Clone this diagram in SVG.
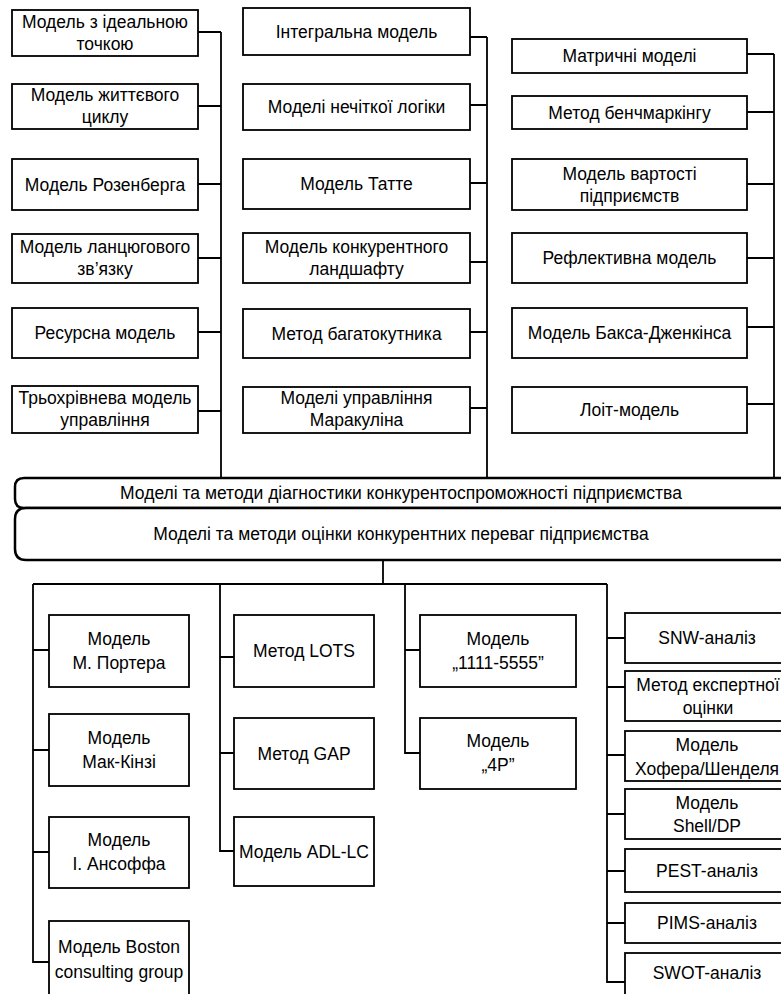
<svg xmlns="http://www.w3.org/2000/svg" width="781" height="994" viewBox="0 0 781 994">
<style>
.box{fill:#fff;stroke:#000;stroke-width:1.8}
.bar{fill:#fff;stroke:#000;stroke-width:2.5}
.ln{fill:none;stroke:#000;stroke-width:1.8}
text{font-family:"Liberation Sans",Arial,sans-serif;font-size:17.5px;text-anchor:middle;fill:#000}
</style>
<rect width="781" height="994" fill="#fff"/>
<g id="connectors">
<path class="ln" d="M221 32V478M198 32H221M198 106H221M198 184H221M198 258H221M198 332H221M198 411H221"/>
<path class="ln" d="M487 37V478M470 37H487M470 105H487M470 183H487M470 262H487M470 332H487M470 408H487"/>
<path class="ln" d="M774 54V478M747 54H774M747 112H774M747 184H774M747 258H774M747 327H774M747 404H774"/>
<path class="ln" d="M383 560V584M33 584H607"/>
<path class="ln" d="M33 584V963M33 650H49M33 750H49M33 852H49M33 962H49"/>
<path class="ln" d="M220 584V851H234M220 657H234M220 753H234"/>
<path class="ln" d="M405 584V753H420M405 650H420"/>
<path class="ln" d="M607 584V982H625M607 638H625M607 687H625M607 755H625M607 814H625M607 871H625M607 923H625"/>
</g>
<g id="L1"><rect class="box" x="12" y="10" width="186" height="46"/><text x="105" y="28">Модель з ідеальною</text><text x="105" y="50">точкою</text></g>
<g id="L2"><rect class="box" x="12" y="84" width="186" height="45"/><text x="105" y="101">Модель життєвого</text><text x="105" y="123">циклу</text></g>
<g id="L3"><rect class="box" x="12" y="159" width="186" height="51"/><text x="105" y="191">Модель Розенберга</text></g>
<g id="L4"><rect class="box" x="12" y="234" width="186" height="49"/><text x="105" y="253">Модель ланцюгового</text><text x="105" y="275">зв’язку</text></g>
<g id="L5"><rect class="box" x="12" y="308" width="186" height="50"/><text x="105" y="339">Ресурсна модель</text></g>
<g id="L6"><rect class="box" x="12" y="386" width="186" height="47"/><text x="105" y="404">Трьохрівнева модель</text><text x="105" y="426">управління</text></g>
<g id="M1"><rect class="box" x="243" y="8" width="227" height="47"/><text x="356.5" y="38">Інтегральна модель</text></g>
<g id="M2"><rect class="box" x="243" y="84" width="227" height="46"/><text x="356.5" y="113">Моделі нечіткої логіки</text></g>
<g id="M3"><rect class="box" x="243" y="159" width="227" height="50"/><text x="356.5" y="190">Модель Татте</text></g>
<g id="M4"><rect class="box" x="243" y="233" width="227" height="50"/><text x="356.5" y="253">Модель конкурентного</text><text x="356.5" y="275">ландшафту</text></g>
<g id="M5"><rect class="box" x="243" y="309" width="227" height="49"/><text x="356.5" y="339.5">Метод багатокутника</text></g>
<g id="M6"><rect class="box" x="243" y="387" width="227" height="46"/><text x="356.5" y="404">Моделі управління</text><text x="356.5" y="426">Маракуліна</text></g>
<g id="R1"><rect class="box" x="512" y="39" width="235" height="34"/><text x="629.5" y="62">Матричні моделі</text></g>
<g id="R2"><rect class="box" x="512" y="96" width="235" height="33"/><text x="629.5" y="118.5">Метод бенчмаркінгу</text></g>
<g id="R3"><rect class="box" x="512" y="159" width="235" height="51"/><text x="629.5" y="179.5">Модель вартості</text><text x="629.5" y="201.5">підприємств</text></g>
<g id="R4"><rect class="box" x="512" y="233" width="235" height="50"/><text x="629.5" y="264">Рефлективна модель</text></g>
<g id="R5"><rect class="box" x="512" y="308" width="235" height="50"/><text x="629.5" y="339">Модель Бакса-Дженкінса</text></g>
<g id="R6"><rect class="box" x="512" y="387" width="235" height="46"/><text x="629.5" y="416">Лоіт-модель</text></g>
<g id="bar1"><path class="bar" d="M800 478H24Q15 478 15 487V499Q15 508 24 508H800"/><text x="401" y="499">Моделі та методи діагностики конкурентоспроможності підприємства</text></g>
<g id="bar2"><path class="bar" d="M800 508H26Q15 508 15 519V549Q15 560 26 560H800"/><text x="401" y="540">Моделі та методи оцінки конкурентних переваг підприємства</text></g>
<g id="B1"><rect class="box" x="49" y="615" width="140" height="72"/><text x="119" y="645">Модель</text><text x="119" y="669">М. Портера</text></g>
<g id="B2"><rect class="box" x="49" y="714" width="140" height="72"/><text x="119" y="744">Модель</text><text x="119" y="768">Мак-Кінзі</text></g>
<g id="B3"><rect class="box" x="49" y="817" width="140" height="71"/><text x="119" y="846">Модель</text><text x="119" y="870">І. Ансоффа</text></g>
<g id="B4"><rect class="box" x="49" y="921" width="140" height="100"/><text x="119" y="953">Модель Boston</text><text x="119" y="978">consulting group</text></g>
<g id="C1"><rect class="box" x="234" y="615" width="140" height="72"/><text x="304" y="657">Метод LOTS</text></g>
<g id="C2"><rect class="box" x="234" y="718" width="140" height="71"/><text x="304" y="759.5">Метод GAP</text></g>
<g id="C3"><rect class="box" x="234" y="817" width="140" height="69"/><text x="304" y="857.5">Модель ADL-LC</text></g>
<g id="D1"><rect class="box" x="420" y="615" width="156" height="72"/><text x="498" y="645">Модель</text><text x="498" y="669">„1111-5555”</text></g>
<g id="D2"><rect class="box" x="420" y="718" width="156" height="71"/><text x="498" y="747">Модель</text><text x="498" y="771">„4P”</text></g>
<g id="E1"><rect class="box" x="625" y="613" width="165" height="50"/><text x="707" y="644">SNW-аналіз</text></g>
<g id="E2"><rect class="box" x="625" y="671" width="165" height="50"/><text x="708" y="690.5">Метод експертної</text><text x="708" y="713.5">оцінки</text></g>
<g id="E3"><rect class="box" x="625" y="731" width="165" height="50"/><text x="707" y="751">Модель</text><text x="707" y="775">Хофера/Шенделя</text></g>
<g id="E4"><rect class="box" x="625" y="789" width="165" height="50"/><text x="707" y="808.5">Модель</text><text x="707" y="831.5">Shell/DP</text></g>
<g id="E5"><rect class="box" x="625" y="849" width="165" height="43"/><text x="707" y="876.5">PEST-аналіз</text></g>
<g id="E6"><rect class="box" x="625" y="903" width="165" height="40"/><text x="707" y="929">PIMS-аналіз</text></g>
<g id="E7"><rect class="box" x="625" y="953" width="165" height="60"/><text x="707" y="979">SWOT-аналіз</text></g>
</svg>
